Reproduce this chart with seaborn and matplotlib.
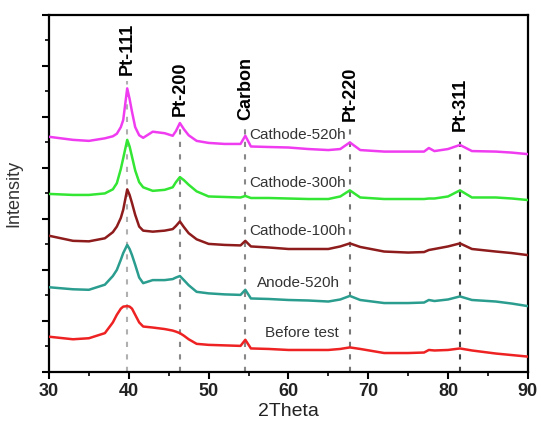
import numpy as np
import pandas as pd
import seaborn as sns
import matplotlib.pyplot as plt
from matplotlib.ticker import MultipleLocator

# 2theta grid (deg), shared by all patterns
two_theta = [30, 33, 35, 37, 38, 38.5, 39, 39.3, 39.8, 40.1, 40.4, 40.8, 41.3, 41.8, 43, 44.5,
             45.5, 45.9, 46.4, 46.9, 47.5, 48.5,
             50, 52, 54, 54.6, 55.3, 57.5, 60, 62.5, 65, 66.5, 67.7, 69, 72, 75, 77, 77.6,
             78.3, 80, 81.5, 83, 86, 88, 90]

cathode_520h = [4.61, 4.55, 4.53, 4.58, 4.62, 4.67, 4.80, 4.94, 5.56, 5.35, 5.10, 4.80, 4.64,
                4.59, 4.71, 4.68, 4.63, 4.72, 4.88, 4.76, 4.64, 4.53,
                4.49, 4.47, 4.47, 4.63, 4.42, 4.41, 4.40, 4.37, 4.35, 4.37, 4.50, 4.35, 4.32,
                4.32, 4.32, 4.39, 4.33, 4.37, 4.45, 4.33, 4.32, 4.30, 4.27]
cathode_300h = [3.49, 3.47, 3.47, 3.50, 3.58, 3.70, 3.98, 4.19, 4.55, 4.42, 4.22, 3.95, 3.72,
                3.62, 3.55, 3.57, 3.62, 3.72, 3.82, 3.76, 3.67, 3.54,
                3.44, 3.43, 3.42, 3.45, 3.41, 3.41, 3.40, 3.39, 3.39, 3.44, 3.56, 3.42, 3.39,
                3.39, 3.39, 3.40, 3.40, 3.44, 3.56, 3.42, 3.42, 3.40, 3.37]
cathode_100h = [2.67, 2.57, 2.56, 2.62, 2.74, 2.85, 3.02, 3.18, 3.58, 3.47, 3.31, 3.08, 2.85,
                2.77, 2.75, 2.77, 2.80, 2.86, 2.95, 2.84, 2.72, 2.60,
                2.51, 2.49, 2.48, 2.57, 2.46, 2.44, 2.41, 2.41, 2.41, 2.46, 2.52, 2.45, 2.36,
                2.34, 2.35, 2.39, 2.41, 2.46, 2.52, 2.41, 2.36, 2.33, 2.29]
anode_520h = [1.66, 1.62, 1.61, 1.71, 1.88, 2.00, 2.20, 2.33, 2.49, 2.41, 2.29, 2.10, 1.85,
              1.74, 1.80, 1.80, 1.82, 1.85, 1.88, 1.80, 1.70, 1.57,
              1.54, 1.52, 1.51, 1.61, 1.44, 1.43, 1.41, 1.40, 1.38, 1.42, 1.49, 1.41, 1.35,
              1.35, 1.36, 1.41, 1.39, 1.42, 1.48, 1.41, 1.38, 1.34, 1.29]
before_test = [0.69, 0.64, 0.66, 0.76, 0.97, 1.12, 1.24, 1.28, 1.29, 1.28, 1.24, 1.12, 0.97,
               0.89, 0.87, 0.84, 0.81, 0.79, 0.76, 0.71, 0.64, 0.55,
               0.53, 0.52, 0.51, 0.63, 0.46, 0.45, 0.43, 0.43, 0.43, 0.45, 0.48, 0.45, 0.37,
               0.37, 0.38, 0.43, 0.42, 0.43, 0.46, 0.42, 0.36, 0.33, 0.30]

samples = ["Cathode-520h", "Cathode-300h", "Cathode-100h", "Anode-520h", "Before test"]
sample_colors = ["#f03cf0", "#33e633", "#8e1c1c", "#2a9d8f", "#ee2222"]
label_x = [61.1, 61.1, 61.1, 61.2, 61.7]
label_y = [4.65, 3.71, 2.76, 1.75, 0.76]

# reference peaks
peak_names = ["Pt-111", "Pt-200", "Carbon", "Pt-220", "Pt-311"]
peak_pos = [39.8, 46.4, 54.6, 67.7, 81.5]
peak_label_y = [5.82, 5.02, 4.94, 4.92, 4.73]
peak_line_top = [5.7, 4.9, 4.85, 4.82, 4.62]
peak_line_colors = ["#b0b0b0", "#888888", "#888888", "#777777", "#444444"]

series = [cathode_520h, cathode_300h, cathode_100h, anode_520h, before_test]
df = pd.concat([pd.DataFrame({"two_theta": two_theta, "intensity": s, "sample": n})
                for n, s in zip(samples, series)], ignore_index=True)

sns.set_style("ticks")
plt.rcParams['font.family'] = ['Liberation Sans', 'DejaVu Sans']

fig = plt.figure(figsize=(5.41, 4.26), dpi=100)
ax = fig.add_axes([0.0906, 0.127, 0.885, 0.838])

for x, top, c in zip(peak_pos, peak_line_top, peak_line_colors):
    ax.plot([x, x], [0, top], color=c, lw=1.5, ls=(0, (2.5, 3.5)), zorder=1)

sns.lineplot(data=df, x="two_theta", y="intensity", hue="sample", hue_order=samples,
             palette=sample_colors, lw=1.8, legend=False, ax=ax, zorder=3)

for name, x, y in zip(samples, label_x, label_y):
    ax.text(x, y, name, ha="center", va="center", fontsize=11, color="#333333", zorder=2)

for name, x, y in zip(peak_names, peak_pos, peak_label_y):
    ax.text(x, y, name, rotation=90, ha="center", va="bottom", fontsize=13,
            fontweight="bold", color="black")

ax.set_xlim(30, 90)
ax.set_ylim(0, 7)
ax.xaxis.set_major_locator(MultipleLocator(10))
ax.xaxis.set_minor_locator(MultipleLocator(5))
ax.yaxis.set_major_locator(MultipleLocator(1))
ax.yaxis.set_minor_locator(MultipleLocator(0.5))
ax.tick_params(which="major", direction="out", length=5, width=1.5, color="black")
ax.tick_params(which="minor", direction="out", length=3, width=1.2, color="black")
ax.tick_params(axis="y", which="both", labelleft=False)
ax.tick_params(axis="x", labelsize=13, pad=3, labelcolor="#222222")
for lab in ax.get_xticklabels():
    lab.set_fontweight("bold")

for sp in ax.spines.values():
    sp.set_visible(True)
    sp.set_linewidth(1.6)
    sp.set_color("black")

ax.set_xlabel("2Theta", fontsize=14, color="#222222", labelpad=2)
ax.set_ylabel("Intensity", fontsize=13, color="#333333", labelpad=14)

fig.savefig("out.png", dpi=100)
